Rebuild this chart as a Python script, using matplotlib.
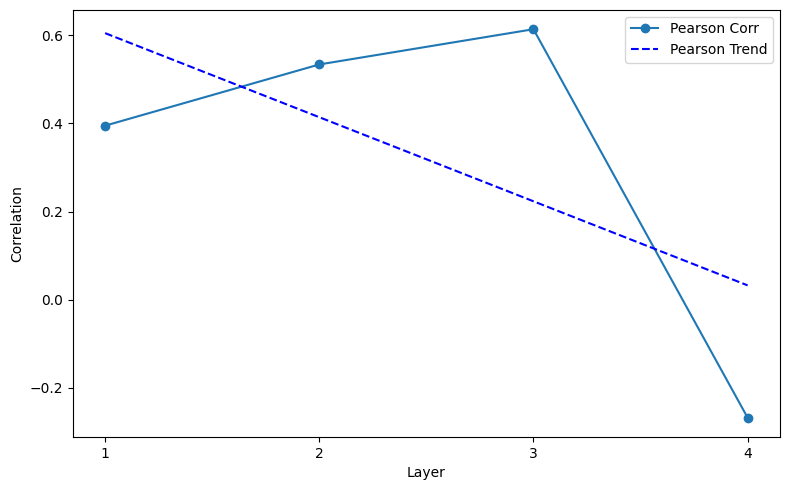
import numpy as np
import matplotlib.pyplot as plt

layers = [1, 2, 3, 4]
pearson_corr = [0.395, 0.534, 0.614, -0.268]

# linear trend over the layer correlations
coef = np.polyfit(layers, pearson_corr, 1)
trend = np.polyval(coef, layers)

plt.figure(figsize=(7.9, 4.9))
plt.plot(layers, pearson_corr, marker='o', label='Pearson Corr')
plt.plot(layers, trend, linestyle='--', color='blue', label='Pearson Trend')
plt.xlabel('Layer')
plt.ylabel('Correlation')
plt.xticks(layers)
plt.legend()
plt.subplots_adjust(left=0.0924, right=0.987, top=0.98, bottom=0.108)
plt.savefig('out.png', dpi=100)
